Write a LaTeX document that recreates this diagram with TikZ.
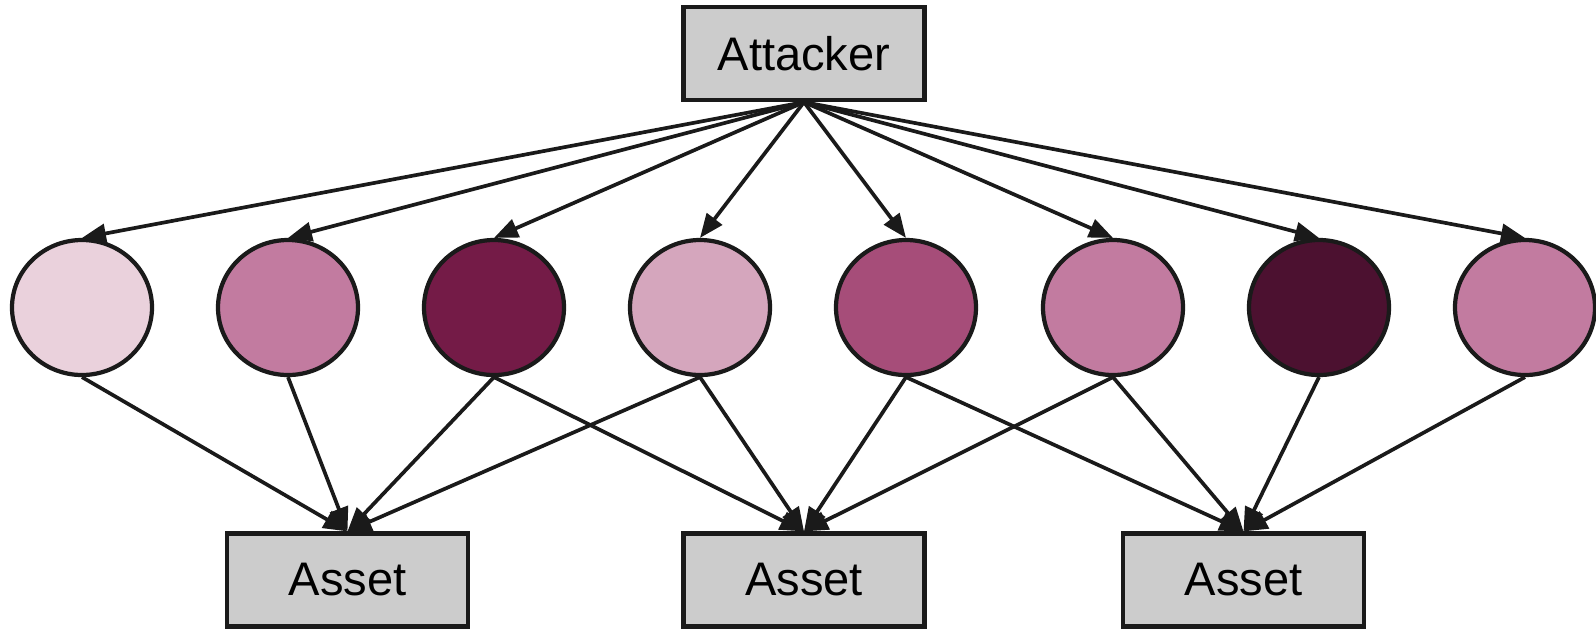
\documentclass[tikz,border=0pt]{standalone}
\usepackage{fontspec}
\setmainfont{Liberation Sans}
\usepackage{tikz}
\usetikzlibrary{arrows.meta,shapes.geometric}

\definecolor{lineblack}{HTML}{1A1A1A}
\definecolor{boxgray}{HTML}{CCCCCC}
\definecolor{mauvea}{HTML}{EAD1DC}
\definecolor{mauveb}{HTML}{D5A6BD}
\definecolor{mauvec}{HTML}{C27BA0}
\definecolor{mauved}{HTML}{A64D79}
\definecolor{mauvee}{HTML}{741B47}
\definecolor{mauvef}{HTML}{4C1130}

\begin{document}
\begin{tikzpicture}[
    font=\fontsize{13.4}{15}\selectfont,
    >={Triangle[length=2.4mm, width=1.9mm]},
    line width=1.1pt,
    draw=lineblack,
    graybox/.style={draw=lineblack, fill=boxgray, line width=1.2pt, minimum width=24.1mm, minimum height=9.3mm, inner sep=0pt},
    vulnnode/.style={ellipse, draw=lineblack, line width=1.2pt, minimum width=14mm, minimum height=13.5mm, inner sep=0pt},
    link/.style={->, draw=lineblack, line width=1.05pt}
]
\useasboundingbox (0,0) rectangle (15.96,-6.28);

\node[graybox] (attacker) at (8.04,-0.535) {Attacker};

\node[vulnnode, fill=mauvea] (v1) at (0.82,-3.075) {};
\node[vulnnode, fill=mauvec] (v2) at (2.88,-3.075) {};
\node[vulnnode, fill=mauvee] (v3) at (4.94,-3.075) {};
\node[vulnnode, fill=mauveb] (v4) at (7.00,-3.075) {};
\node[vulnnode, fill=mauved] (v5) at (9.06,-3.075) {};
\node[vulnnode, fill=mauvec] (v6) at (11.13,-3.075) {};
\node[vulnnode, fill=mauvef] (v7) at (13.19,-3.075) {};
\node[vulnnode, fill=mauvec] (v8) at (15.25,-3.075) {};

\node[graybox] (asset1) at (3.475,-5.80) {Asset};
\node[graybox] (asset2) at (8.04,-5.80) {Asset};
\node[graybox] (asset3) at (12.435,-5.80) {Asset};

\draw[link] (attacker.south) -- (v1.north);
\draw[link] (attacker.south) -- (v2.north);
\draw[link] (attacker.south) -- (v3.north);
\draw[link] (attacker.south) -- (v4.north);
\draw[link] (attacker.south) -- (v5.north);
\draw[link] (attacker.south) -- (v6.north);
\draw[link] (attacker.south) -- (v7.north);
\draw[link] (attacker.south) -- (v8.north);

\draw[link] (v1.south) -- (asset1.north);
\draw[link] (v2.south) -- (asset1.north);
\draw[link] (v3.south) -- (asset1.north);
\draw[link] (v3.south) -- (asset2.north);
\draw[link] (v4.south) -- (asset1.north);
\draw[link] (v4.south) -- (asset2.north);
\draw[link] (v5.south) -- (asset2.north);
\draw[link] (v5.south) -- (asset3.north);
\draw[link] (v6.south) -- (asset2.north);
\draw[link] (v6.south) -- (asset3.north);
\draw[link] (v7.south) -- (asset3.north);
\draw[link] (v8.south) -- (asset3.north);
\end{tikzpicture}
\end{document}
